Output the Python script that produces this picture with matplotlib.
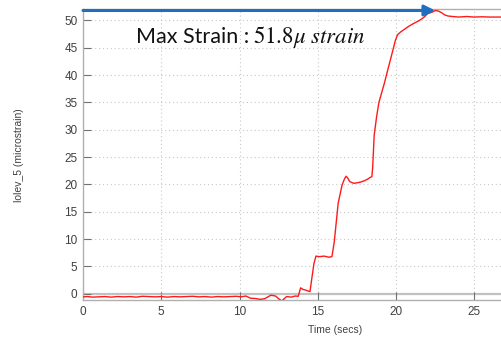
import matplotlib
matplotlib.use("Agg")
import matplotlib.pyplot as plt

# ---- data ----
time_s = [0.0, 0.3, 0.6, 1.0, 1.4, 1.8, 2.2, 2.6, 3.0, 3.4, 3.8, 4.2, 4.6, 5.0,
          5.4, 5.8, 6.2, 6.6, 7.0, 7.4, 7.8, 8.2, 8.6, 9.0, 9.4, 9.8, 10.1,
          10.4, 10.7, 11.0, 11.3, 11.6, 12.0, 12.3, 12.5, 12.7, 13.0, 13.3,
          13.55, 13.75, 13.9, 14.05, 14.2, 14.4, 14.5, 14.6, 14.75, 14.88,
          15.1, 15.4, 15.7, 15.9, 16.05, 16.3, 16.55, 16.7, 16.8, 16.9, 17.05,
          17.3, 17.5, 17.7, 18.0, 18.2, 18.35, 18.45, 18.5, 18.55, 18.6, 18.75,
          18.9, 19.1, 19.25, 19.4, 19.6, 19.8, 19.95, 20.1, 20.3, 20.5, 20.8,
          21.1, 21.5, 21.8, 22.0, 22.3, 22.5, 22.7, 22.9, 23.1, 23.3, 23.6,
          24.0, 24.5, 25.0, 25.5, 26.0, 26.7]
strain = [-0.55, -0.5, -0.6, -0.55, -0.5, -0.6, -0.5, -0.55, -0.5, -0.6, -0.45,
          -0.5, -0.55, -0.5, -0.6, -0.5, -0.55, -0.5, -0.45, -0.55, -0.5, -0.6,
          -0.5, -0.55, -0.5, -0.45, -0.55, -0.4, -0.8, -0.85, -1.0, -0.9, -0.25,
          -0.4, -0.9, -1.3, -0.5, -0.6, -0.4, -0.45, 1.1, 0.8, 0.7, 0.5, 0.4,
          2.5, 5.5, 6.9, 6.8, 6.9, 6.7, 6.8, 9.5, 16.6, 19.9, 21.0, 21.5, 21.2,
          20.5, 20.2, 20.3, 20.4, 20.7, 21.0, 21.3, 21.4, 23.0, 26.0, 29.0,
          32.3, 35.0, 37.0, 38.5, 40.2, 42.4, 44.6, 46.3, 47.4, 47.9, 48.3,
          48.9, 49.4, 50.0, 50.6, 51.2, 51.5, 51.8, 51.7, 51.4, 51.0, 50.8,
          50.7, 50.6, 50.7, 50.6, 50.65, 50.6, 50.6]

max_strain = 51.8
max_time = 22.5
x_ticks = [0, 5, 10, 15, 20, 25]
y_ticks = [0, 5, 10, 15, 20, 25, 30, 35, 40, 45, 50]

plt.rcParams['mathtext.fontset'] = 'stix'

fig = plt.figure(figsize=(5.01, 3.37), dpi=100)
ax = fig.add_axes([83 / 501, 1 - 300.4 / 337, 1 - 83 / 501, (300.4 - 9.4) / 337])

ax.set_xlim(0, 26.7)
ax.set_ylim(-1.2, 52)
ax.set_xticks(x_ticks)
ax.set_yticks(y_ticks)

ax.grid(True, color='#c8c8c8', linestyle=(0, (1, 2.5)), linewidth=0.8)
ax.axhline(0, color='#c0c0c0', linewidth=1.6, zorder=1.5)

ax.plot(time_s, strain, color='#ff1a1a', linewidth=1.0, zorder=3)

ax.spines['right'].set_visible(False)
for side in ['left', 'bottom', 'top']:
    ax.spines[side].set_color('#b0b0b0')
    ax.spines[side].set_linewidth(1.0)

ax.tick_params(direction='in', length=6, width=0.8, color='#707070',
               labelsize=8.5, labelcolor='#404040', pad=4)
for lab in ax.get_xticklabels() + ax.get_yticklabels():
    lab.set_fontfamily('Liberation Sans')

ax.set_xlabel('Time (secs)', fontsize=7.5, color='#404040', family='Liberation Sans')
ax.xaxis.set_label_coords((335 - 83) / (501 - 83), -0.085)
ax.set_ylabel('lolev_5 (microstrain)', fontsize=7.5, color='#404040', family='Liberation Sans')
ax.yaxis.set_label_coords(-(83 - 24) / (501 - 83), 0.5)

ax.annotate('', xy=(max_time, max_strain), xytext=(0, max_strain),
            arrowprops=dict(arrowstyle='-|>', color='#1f6fc0', lw=2.2,
                            mutation_scale=16, shrinkA=0, shrinkB=0),
            zorder=4, annotation_clip=False)

ax.text(3.4, 45.8, 'Max Strain :', fontsize=15.5,
        family='Lato', color='#111111', va='baseline', ha='left')
ax.text(10.85, 45.8, r'$51.8\mu\ strain$', fontsize=16.5,
        color='#111111', va='baseline', ha='left')

fig.savefig('out.png', dpi=100)
